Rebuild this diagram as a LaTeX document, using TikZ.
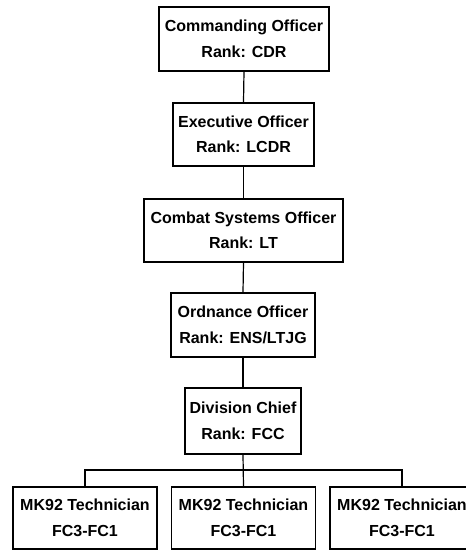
\documentclass[tikz,border=0pt]{standalone}
\usepackage{fontspec}
\setmainfont{Liberation Sans}
\begin{document}
\begin{tikzpicture}[x=1pt,y=-1pt,
  box/.style={draw=black, line width=1.4pt, align=center, inner sep=0pt,
    font=\bfseries\fontsize{16}{25.5}\selectfont, text=black},
  conn/.style={draw=black, line width=1.2pt}]
\useasboundingbox (0,0) rectangle (466,550);
\node[box, minimum width=170, minimum height=64] (co) at (244,39) {Commanding Officer\\Rank: CDR};
\node[box, minimum width=141, minimum height=63] (xo) at (243.5,134.5) {Executive Officer\\Rank: LCDR};
\node[box, minimum width=199, minimum height=63] (cso) at (243.5,230.5) {Combat Systems Officer\\Rank: LT};
\node[box, minimum width=144, minimum height=64] (ord) at (243,325) {Ordnance Officer\\Rank: ENS/LTJG};
\node[box, minimum width=116, minimum height=66] (div) at (243,421) {Division Chief\\Rank: FCC};
\node[box, minimum width=144, minimum height=62] (t1) at (85,518) {MK92 Technician\\FC3-FC1};
\node[box, minimum width=144, minimum height=62] (t2) at (243.5,518) {MK92 Technician\\FC3-FC1};
\node[box, minimum width=144, minimum height=62] (t3) at (402,518) {MK92 Technician\\FC3-FC1};
\coordinate (bar) at (0,470);
\draw[conn] (co.south) -- (xo.north);
\draw[conn] (xo.south) -- (cso.north);
\draw[conn] (cso.south) -- (ord.north);
\draw[conn] (ord.south) -- (div.north);
\draw[conn] (div.south) -- (t2.north);
\draw[conn] (t1.north) -- (t1.north |- bar) -- (t3.north |- bar) -- (t3.north);
\end{tikzpicture}
\end{document}
